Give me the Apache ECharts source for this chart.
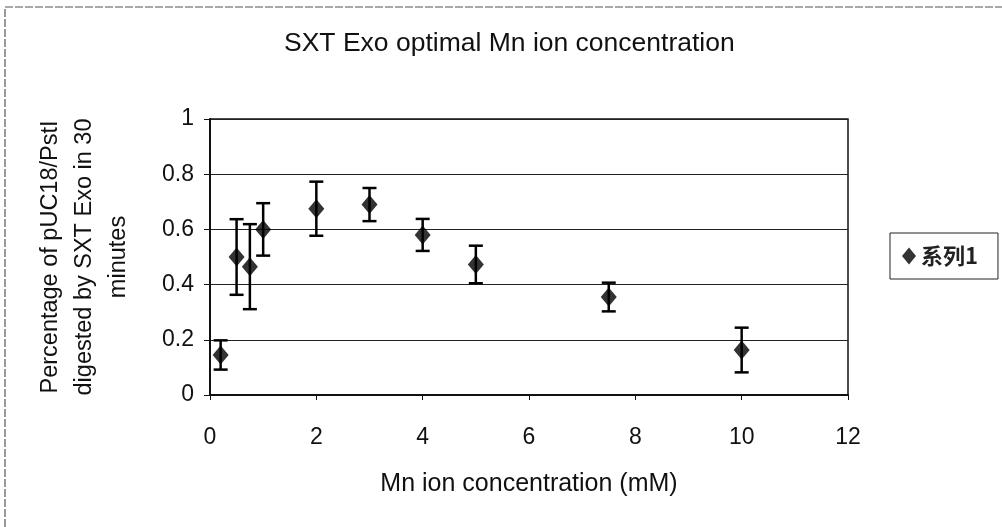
<!DOCTYPE html>
<html>
<head>
<meta charset="utf-8">
<script src="https://cdn.jsdelivr.net/npm/echarts@6/dist/echarts.min.js"></script>
<style>
  html, body { margin: 0; padding: 0; background: #fff; }
  #chart { width: 1002px; height: 527px; }
</style>
</head>
<body>
<div id="chart"></div>
<script>
// ---- data ----
var chartTitle = 'SXT Exo optimal Mn ion concentration';
var xAxisName = 'Mn ion concentration (mM)';
var yAxisName = 'Percentage of pUC18/PstI\ndigested by SXT Exo in 30\nminutes';
var seriesName = '系列1';
var concentrations = [0.2, 0.5, 0.75, 1, 2, 3, 4, 5, 7.5, 10];
var means =          [0.145, 0.50, 0.465, 0.60, 0.675, 0.69, 0.58, 0.473, 0.355, 0.163];
var errors =         [0.053, 0.137, 0.154, 0.095, 0.098, 0.06, 0.058, 0.068, 0.052, 0.081];

var FONT = '"Liberation Sans", Arial, sans-serif';

var pointData = concentrations.map(function (x, i) { return [x, means[i]]; });
var errorData = concentrations.map(function (x, i) { return [x, means[i] - errors[i], means[i] + errors[i]]; });

var chart = echarts.init(document.getElementById('chart'), null, { renderer: 'canvas' });
chart.setOption({
  backgroundColor: '#fff',
  animation: false,
  title: {
    text: chartTitle,
    left: 279,
    top: 25,
    textStyle: { fontFamily: FONT, fontSize: 26.5, fontWeight: 'normal', color: '#111' }
  },
  legend: {
    data: [{ name: seriesName, icon: 'diamond' }],
    left: 890,
    top: 233,
    orient: 'vertical',
    itemWidth: 14,
    itemHeight: 17,
    itemGap: 0,
    padding: [12, 20, 12, 12],
    borderColor: '#222',
    borderWidth: 1,
    textStyle: { fontFamily: '"Noto Sans CJK SC", sans-serif', fontSize: 22, fontWeight: 'bold', color: '#222' }
  },
  grid: {
    left: 210, right: 1002 - 848, top: 119, bottom: 527 - 395,
    show: true, borderColor: '#111', borderWidth: 1.5, backgroundColor: 'transparent'
  },
  xAxis: {
    type: 'value',
    min: 0, max: 12, interval: 2,
    name: xAxisName,
    nameLocation: 'middle',
    nameGap: 77,
    nameTextStyle: { fontFamily: FONT, fontSize: 25, color: '#111' },
    axisLine: { show: true, onZero: false, lineStyle: { color: '#111', width: 2 } },
    axisTick: { show: true, length: 5, lineStyle: { color: '#111' } },
    axisLabel: { fontFamily: FONT, fontSize: 23, color: '#111', margin: 31 },
    splitLine: { show: false }
  },
  yAxis: {
    type: 'value',
    min: 0, max: 1, interval: 0.2,
    name: yAxisName,
    nameLocation: 'middle',
    nameRotate: 90,
    nameGap: 74,
    nameTextStyle: { fontFamily: FONT, fontSize: 23.5, color: '#111', lineHeight: 34, align: 'center' },
    axisLine: { show: true, lineStyle: { color: '#111', width: 2 } },
    axisTick: { show: true, length: 6, lineStyle: { color: '#111' } },
    axisLabel: { fontFamily: FONT, fontSize: 23, color: '#111', margin: 16 },
    splitLine: { show: true, lineStyle: { color: '#222', width: 1.2 } }
  },
  series: [
    {
      name: seriesName,
      type: 'scatter',
      data: pointData,
      symbol: 'diamond',
      symbolSize: [16, 19],
      itemStyle: { color: '#000' },
      z: 3
    },
    {
      name: 'error',
      type: 'custom',
      data: errorData,
      encode: { x: 0, y: [1, 2] },
      z: 2,
      renderItem: function (params, api) {
        var x = api.value(0);
        var lo = api.coord([x, api.value(1)]);
        var hi = api.coord([x, api.value(2)]);
        var half = 7;
        var style = { stroke: '#000', lineWidth: 2.5 };
        return {
          type: 'group',
          children: [
            { type: 'line', shape: { x1: hi[0], y1: hi[1], x2: lo[0], y2: lo[1] }, style: style },
            { type: 'line', shape: { x1: hi[0] - half, y1: hi[1], x2: hi[0] + half, y2: hi[1] }, style: style },
            { type: 'line', shape: { x1: lo[0] - half, y1: lo[1], x2: lo[0] + half, y2: lo[1] }, style: style }
          ]
        };
      }
    }
  ],
  graphic: [
    {
      type: 'rect',
      shape: { x: 5, y: 7, width: 1010, height: 540 },
      style: { fill: 'none', stroke: '#555', lineWidth: 1.2, lineDash: [8, 2] },
      silent: true
    }
  ]
});
</script>
</body>
</html>
